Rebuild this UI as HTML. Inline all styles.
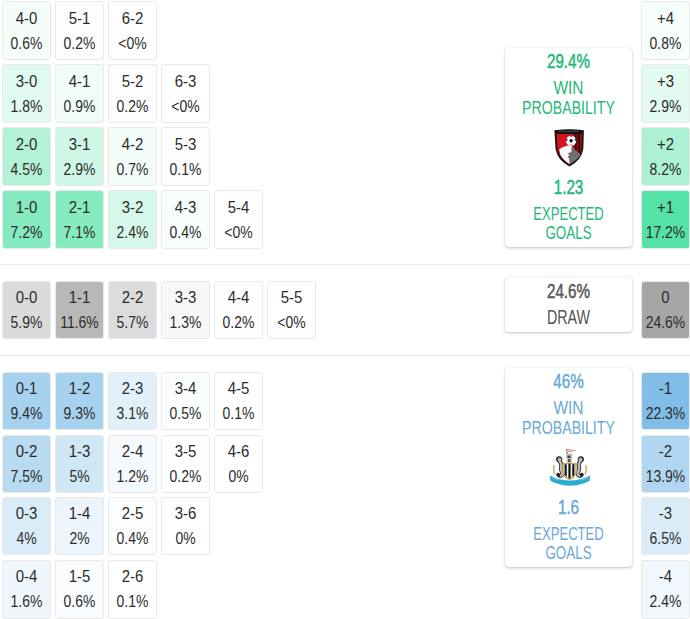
<!DOCTYPE html>
<html><head><meta charset="utf-8">
<style>
html,body{margin:0;padding:0;background:#fff;width:690px;height:619px;overflow:hidden;position:relative;font-family:"Liberation Sans",sans-serif;}
.c{position:absolute;width:49px;height:58px;box-sizing:border-box;border:1px solid #e9e9e9;border-radius:3px;color:#2c2c2c;}
.c span{position:absolute;left:-20px;right:-20px;text-align:center;font-size:17px;line-height:20px;transform:scaleX(0.82);white-space:nowrap;}
.c .s{top:6px;transform:scaleX(0.88);}
.c .p{top:31px;}
.sep{position:absolute;left:0;width:690px;height:1px;background:#ebebeb;}
.card{position:absolute;left:505px;width:127px;background:#fff;border-radius:4px;box-shadow:0 1px 3px rgba(0,0,0,0.24),0 0 1px rgba(0,0,0,0.12);}
.card div{position:absolute;left:-30px;right:-30px;text-align:center;white-space:nowrap;font-size:18px;line-height:20px;transform:scaleX(0.8);}
.card .b{font-size:20px;transform:scaleX(0.76);-webkit-text-stroke:0.5px currentColor;}
.green{color:#1fb878;}
.blue{color:#69a9d8;}
.grey{color:#555;}
.crest{position:absolute;}
</style></head><body>
<div class="sep" style="top:264px"></div>
<div class="sep" style="top:355px"></div>
<div class="c" style="left:2px;top:1px;background:#f5fdfa;height:59px"><span class="s" style="margin-top:1px">4-0</span><span class="p" style="margin-top:1px">0.6%</span></div>
<div class="c" style="left:55px;top:1px;background:#fcfefd;height:59px"><span class="s" style="margin-top:1px">5-1</span><span class="p" style="margin-top:1px">0.2%</span></div>
<div class="c" style="left:108px;top:1px;background:#ffffff;height:59px"><span class="s" style="margin-top:1px">6-2</span><span class="p" style="margin-top:1px">&lt;0%</span></div>
<div class="c" style="left:2px;top:64px;background:#e1faef;height:59px"><span class="s" style="margin-top:1px">3-0</span><span class="p" style="margin-top:1px">1.8%</span></div>
<div class="c" style="left:55px;top:64px;background:#f0fcf7;height:59px"><span class="s" style="margin-top:1px">4-1</span><span class="p" style="margin-top:1px">0.9%</span></div>
<div class="c" style="left:108px;top:64px;background:#fcfefd;height:59px"><span class="s" style="margin-top:1px">5-2</span><span class="p" style="margin-top:1px">0.2%</span></div>
<div class="c" style="left:161px;top:64px;background:#ffffff;height:59px"><span class="s" style="margin-top:1px">6-3</span><span class="p" style="margin-top:1px">&lt;0%</span></div>
<div class="c" style="left:2px;top:127px;background:#b3f2d7;height:59px"><span class="s" style="margin-top:1px">2-0</span><span class="p" style="margin-top:1px">4.5%</span></div>
<div class="c" style="left:55px;top:127px;background:#cef7e5;height:59px"><span class="s" style="margin-top:1px">3-1</span><span class="p" style="margin-top:1px">2.9%</span></div>
<div class="c" style="left:108px;top:127px;background:#f3fdf9;height:59px"><span class="s" style="margin-top:1px">4-2</span><span class="p" style="margin-top:1px">0.7%</span></div>
<div class="c" style="left:161px;top:127px;background:#fdfffe;height:59px"><span class="s" style="margin-top:1px">5-3</span><span class="p" style="margin-top:1px">0.1%</span></div>
<div class="c" style="left:2px;top:190px;background:#85eac0;height:59px"><span class="s" style="margin-top:1px">1-0</span><span class="p" style="margin-top:1px">7.2%</span></div>
<div class="c" style="left:55px;top:190px;background:#87ebc0;height:59px"><span class="s" style="margin-top:1px">2-1</span><span class="p" style="margin-top:1px">7.1%</span></div>
<div class="c" style="left:108px;top:190px;background:#d6f8ea;height:59px"><span class="s" style="margin-top:1px">3-2</span><span class="p" style="margin-top:1px">2.4%</span></div>
<div class="c" style="left:161px;top:190px;background:#f8fefb;height:59px"><span class="s" style="margin-top:1px">4-3</span><span class="p" style="margin-top:1px">0.4%</span></div>
<div class="c" style="left:214px;top:190px;background:#ffffff;height:59px"><span class="s" style="margin-top:1px">5-4</span><span class="p" style="margin-top:1px">&lt;0%</span></div>
<div class="c" style="left:641px;top:1px;background:#f7fefb;height:59px"><span class="s" style="margin-top:1px">+4</span><span class="p" style="margin-top:1px">0.8%</span></div>
<div class="c" style="left:641px;top:64px;background:#e2faf0;height:59px"><span class="s" style="margin-top:1px">+3</span><span class="p" style="margin-top:1px">2.9%</span></div>
<div class="c" style="left:641px;top:127px;background:#adf1d5;height:59px"><span class="s" style="margin-top:1px">+2</span><span class="p" style="margin-top:1px">8.2%</span></div>
<div class="c" style="left:641px;top:190px;background:#54e2a6;height:59px"><span class="s" style="margin-top:1px">+1</span><span class="p" style="margin-top:1px">17.2%</span></div>
<div class="c" style="left:2px;top:281px;background:#dbdbdb"><span class="s">0-0</span><span class="p">5.9%</span></div>
<div class="c" style="left:55px;top:281px;background:#b8b8b8"><span class="s">1-1</span><span class="p">11.6%</span></div>
<div class="c" style="left:108px;top:281px;background:#dcdcdc"><span class="s">2-2</span><span class="p">5.7%</span></div>
<div class="c" style="left:161px;top:281px;background:#f7f7f7"><span class="s">3-3</span><span class="p">1.3%</span></div>
<div class="c" style="left:214px;top:281px;background:#fefefe"><span class="s">4-4</span><span class="p">0.2%</span></div>
<div class="c" style="left:267px;top:281px;background:#ffffff"><span class="s">5-5</span><span class="p">&lt;0%</span></div>
<div class="c" style="left:641px;top:281px;background:#a6a6a6"><span class="s">0</span><span class="p">24.6%</span></div>
<div class="c" style="left:2px;top:372px;background:#a6d1ef"><span class="s">0-1</span><span class="p">9.4%</span></div>
<div class="c" style="left:55px;top:372px;background:#a7d2ef"><span class="s">1-2</span><span class="p">9.3%</span></div>
<div class="c" style="left:108px;top:372px;background:#e2f0fa"><span class="s">2-3</span><span class="p">3.1%</span></div>
<div class="c" style="left:161px;top:372px;background:#fafdfe"><span class="s">3-4</span><span class="p">0.5%</span></div>
<div class="c" style="left:214px;top:372px;background:#feffff"><span class="s">4-5</span><span class="p">0.1%</span></div>
<div class="c" style="left:2px;top:435px;background:#b8dbf2"><span class="s">0-2</span><span class="p">7.5%</span></div>
<div class="c" style="left:55px;top:435px;background:#d0e7f6"><span class="s">1-3</span><span class="p">5%</span></div>
<div class="c" style="left:108px;top:435px;background:#f4f9fd"><span class="s">2-4</span><span class="p">1.2%</span></div>
<div class="c" style="left:161px;top:435px;background:#fdfeff"><span class="s">3-5</span><span class="p">0.2%</span></div>
<div class="c" style="left:214px;top:435px;background:#ffffff"><span class="s">4-6</span><span class="p">0%</span></div>
<div class="c" style="left:2px;top:497px;background:#d9ecf8"><span class="s">0-3</span><span class="p">4%</span></div>
<div class="c" style="left:55px;top:497px;background:#ecf5fc"><span class="s">1-4</span><span class="p">2%</span></div>
<div class="c" style="left:108px;top:497px;background:#fbfdfe"><span class="s">2-5</span><span class="p">0.4%</span></div>
<div class="c" style="left:161px;top:497px;background:#ffffff"><span class="s">3-6</span><span class="p">0%</span></div>
<div class="c" style="left:2px;top:560px;background:#f0f7fc;height:59px"><span class="s">0-4</span><span class="p">1.6%</span></div>
<div class="c" style="left:55px;top:560px;background:#f9fcfe;height:59px"><span class="s">1-5</span><span class="p">0.6%</span></div>
<div class="c" style="left:108px;top:560px;background:#feffff;height:59px"><span class="s">2-6</span><span class="p">0.1%</span></div>
<div class="c" style="left:641px;top:372px;background:#80bee8"><span class="s">-1</span><span class="p">22.3%</span></div>
<div class="c" style="left:641px;top:435px;background:#b0d6f1"><span class="s">-2</span><span class="p">13.9%</span></div>
<div class="c" style="left:641px;top:497px;background:#daecf8"><span class="s">-3</span><span class="p">6.5%</span></div>
<div class="c" style="left:641px;top:560px;background:#f1f8fd;height:59px"><span class="s">-4</span><span class="p">2.4%</span></div>
<div class="card green" style="top:48px;height:199px">
<div class="b" style="top:3px">29.4%</div>
<div style="top:30px;transform:scaleX(0.86)">WIN</div>
<div style="top:50px;transform:scaleX(0.786)">PROBABILITY</div>
<div class="b" style="top:129px">1.23</div>
<div style="top:156px;transform:scaleX(0.725)">EXPECTED</div>
<div style="top:175px;transform:scaleX(0.745)">GOALS</div>
</div>
<svg class="crest" style="left:550px;top:125px" width="38" height="45" viewBox="0 0 38 45">
<path d="M4.4 5.2 Q19 3.2 33.9 5.2 L33.3 24 Q32 34.5 19.5 41.6 Q7 34.5 5.6 24 Z" fill="#151515"/>
<path d="M6.6 9 L31.8 9 L31.3 24 Q30.2 32.6 19.5 39.2 Q8.8 32.6 7.6 24 Z" fill="#d3141c"/>
<path d="M23.5 9 L31.8 9 L31.3 24 Q31 27 30.3 29 L23.5 22 Z" fill="#8e0f15"/>
<path d="M25 9 h1.6 v17 h-1.6z M28.3 9 h1.6 v19 h-1.6z" fill="#2a0507"/>
<path d="M9 6.3 h20" stroke="#888" stroke-width="0.7" stroke-dasharray="1.2 0.6"/>
<circle cx="21.1" cy="15.8" r="5.1" fill="#fff"/>
<circle cx="21.1" cy="15.8" r="1.7" fill="#111"/>
<path d="M16.3 13.5 l1.3 0.7 l-0.3 1.5 l-1.3 0.2z M25.9 13.5 l-1.3 0.7 l0.3 1.5 l1.3 0.2z M20 20.5 l1.1 -1.4 l1.1 1.4z M19.8 11 l1.3 0.9 l1.3 -0.9 l-1.3 -0.4z" fill="#333"/>
<path d="M21.6 21.6 L30.6 29.8 Q27.5 35 19.5 39.2 L19.2 33.2 L17.6 32 L19.6 30 L17.6 28.4 L21.3 27 Z" fill="#707070"/>
<path d="M9.2 24.4 Q13.5 20.6 21.8 20.3 L21.3 27 L17.6 28.4 L19.6 30 L17.6 32 L19.2 33.2 L19.5 39.2 Q12.5 34.6 10.3 29.5 Z" fill="#fafafa"/>
</svg>
<div class="card grey" style="top:277px;height:55px">
<div class="b" style="top:4px">24.6%</div>
<div style="top:30px;font-size:20px;transform:scaleX(0.715)">DRAW</div>
</div>
<div class="card blue" style="top:368px;height:199px">
<div class="b" style="top:3px">46%</div>
<div style="top:30px;transform:scaleX(0.86)">WIN</div>
<div style="top:50px;transform:scaleX(0.786)">PROBABILITY</div>
<div class="b" style="top:129px">1.6</div>
<div style="top:156px;transform:scaleX(0.725)">EXPECTED</div>
<div style="top:175px;transform:scaleX(0.745)">GOALS</div>
</div>
<svg class="crest" style="left:548px;top:445px" width="44" height="46" viewBox="0 0 44 46">
<path d="M1.8 30.5 Q22 40.5 42.2 30.5 L41.4 36 Q22 45.5 2.6 36 Z" fill="#2aaccd"/>
<path d="M4 32.6 Q8 34.5 11 35" stroke="#9fd8e8" stroke-width="0.7" fill="none"/>
<path d="M40 32.6 Q36 34.5 33 35" stroke="#9fd8e8" stroke-width="0.7" fill="none"/>
<path d="M6.5 20 Q4.6 24.5 7 29.5" stroke="#c8a552" stroke-width="1.3" fill="none"/>
<path d="M37.5 20 Q39.4 24.5 37 29.5" stroke="#c8a552" stroke-width="1.3" fill="none"/>
<g>
<path d="M11.4 16 Q14.2 18.8 13 21.8 Q12.2 24.4 14 27 Q15.2 29.4 12.8 30.8 Q11 31.2 10.2 29.8" stroke="#262626" stroke-width="3.9" fill="none" stroke-linecap="round"/>
<circle cx="11.2" cy="14.3" r="3.1" fill="#262626"/>
<circle cx="11.5" cy="14.5" r="1.9" fill="#b8b8b8"/>
<path d="M11.4 16 Q14.2 18.8 13 21.8 Q12.2 24.4 14 27 Q15.2 29.4 12.8 30.8" stroke="#bdbdbd" stroke-width="2.2" fill="none" stroke-linecap="round"/>
</g>
<g transform="translate(44,0) scale(-1,1)">
<path d="M11.4 16 Q14.2 18.8 13 21.8 Q12.2 24.4 14 27 Q15.2 29.4 12.8 30.8 Q11 31.2 10.2 29.8" stroke="#262626" stroke-width="3.9" fill="none" stroke-linecap="round"/>
<circle cx="11.2" cy="14.3" r="3.1" fill="#262626"/>
<circle cx="11.5" cy="14.5" r="1.9" fill="#b8b8b8"/>
<path d="M11.4 16 Q14.2 18.8 13 21.8 Q12.2 24.4 14 27 Q15.2 29.4 12.8 30.8" stroke="#bdbdbd" stroke-width="2.2" fill="none" stroke-linecap="round"/>
</g>
<path d="M18.6 4 L20.6 17" stroke="#3a3a3a" stroke-width="0.8"/>
<path d="M18.4 4 L28.6 5.6 L19 7.6 Z" fill="#de6f72"/>
<path d="M18.8 5.3 L25.5 5.7 L19.1 6.5 Z" fill="#f4f4f4"/>
<path d="M18 8.5 L24.5 8.5 L23.8 17.5 L18.8 17.5 Z" fill="#c4c4c4"/>
<path d="M19.5 10.5 h3 v2.5 h-3z M20.2 14 h2 v3 h-2z" fill="#444"/>
<path d="M14.3 18.6 Q21.5 16.4 28.7 18.6 L28.7 27 Q28.6 32.2 21.5 35.2 Q14.4 32.2 14.3 27 Z" fill="#c9a651"/>
<path d="M15.7 19.7 Q21.5 17.9 27.3 19.7 L27.3 27 Q27.2 31.2 21.5 33.7 Q15.8 31.2 15.7 27 Z" fill="#f6f6f6"/>
<path d="M16.6 19.3 h2.1 v12.6 l-2.1 -2.2z M20.4 18.5 h2.2 v15 l-2.2 -0.3z M24.3 19.3 h2.1 v10.4 l-2.1 2.2z" fill="#111"/>
</svg>
</body></html>
